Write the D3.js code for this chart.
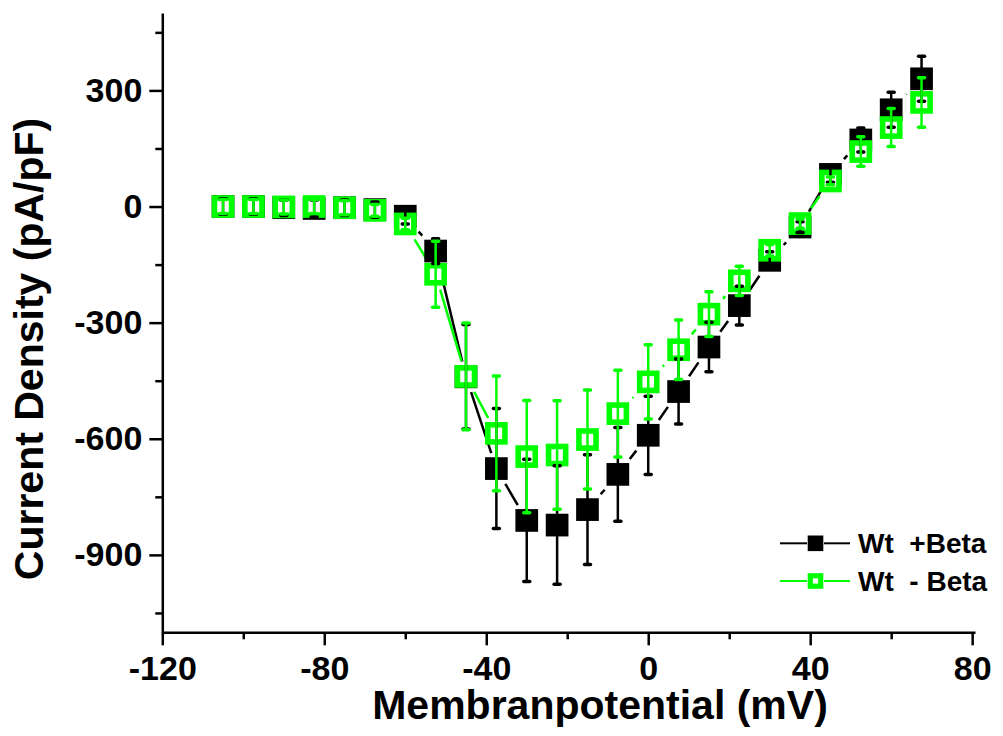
<!DOCTYPE html>
<html>
<head>
<meta charset="utf-8">
<script src="https://cdn.jsdelivr.net/npm/d3@7"></script>
<style>
  body { margin: 0; background: #fff; }
  text { font-family: "Liberation Sans", Arial, sans-serif; font-weight: bold; }
</style>
</head>
<body>
<script>
'use strict';

// membrane potential steps (mV)
const voltages = [-105, -97.5, -90, -82.5, -75, -67.5, -60, -52.5, -45, -37.5, -30, -22.5,
  -15, -7.5, 0, 7.5, 15, 22.5, 30, 37.5, 45, 52.5, 60, 67.5];

// Wt +Beta (black, filled squares)
const plusBeta = [0, 0, -3, -5, -3, -8, -25, -115, -440, -677, -811, -823,
  -783, -692, -591, -478, -363, -256, -139, -53, 83, 172, 250, 330];
const plusBetaErr = [20, 20, 20, 22, 20, 20, 20, 32, 135, 155, 158, 153,
  142, 121, 101, 84, 64, 50, 22, 14, 20, 31, 45, 58];

// Wt - Beta (green, open squares)
const minusBeta = [0, 0, -1, 0, -3, -10, -45, -175, -439, -586, -646, -642,
  -602, -535, -453, -370, -278, -192, -113, -44, 66, 142, 204, 269];
const minusBetaErr = [18, 18, 18, 18, 18, 15, 15, 85, 138, 148, 145, 140,
  128, 112, 96, 77, 58, 38, 15, 12, 10, 38, 49, 64];

const xMajor = [-120, -80, -40, 0, 40, 80];
const xMinor = [-100, -60, -20, 20, 60];
const yMajor = [-900, -600, -300, 0, 300];
const yMinor = [-1050, -750, -450, -150, 150, 450];

const seriesNames = ["Wt  +Beta", "Wt  - Beta"];

window.onload = function() {
  const svg = d3.select("body").append("svg")
    .attr("width", 1003)
    .attr("height", 736);

  const GREEN = "#00ff00";

  const x = d3.scaleLinear().domain([-120, 80.7]).range([162.3, 975]);
  const y = d3.scaleLinear().domain([-1100, 500]).range([632.3, 13]);

  // plain hyphen for negatives, like the original
  const fmt = (d) => String(d);

  // axes: major ticks with labels, minor ticks without
  const xAxis = svg.append("g").attr("transform", "translate(0," + y(-1100) + ")");
  xAxis.call(d3.axisBottom(x).tickValues(xMajor).tickFormat(fmt).tickSize(13).tickPadding(11).tickSizeOuter(0));
  xAxis.append("g").call(d3.axisBottom(x).tickValues(xMinor).tickSize(7).tickFormat("").tickSizeOuter(0))
    .select(".domain").remove();

  const yAxis = svg.append("g").attr("transform", "translate(" + x(-120) + ",0)");
  yAxis.call(d3.axisLeft(y).tickValues(yMajor).tickFormat(fmt).tickSize(13).tickPadding(7).tickSizeOuter(0));
  yAxis.append("g").call(d3.axisLeft(y).tickValues(yMinor).tickSize(7).tickFormat("").tickSizeOuter(0))
    .select(".domain").remove();

  svg.selectAll(".domain, .tick line")
    .attr("stroke", "#000")
    .attr("stroke-width", 2.5);
  svg.selectAll(".tick text")
    .attr("font-size", "34px")
    .attr("fill", "#000");

  /****** Labels *******/
  svg.append("text")
    .attr("x", 600)
    .attr("y", 719)
    .attr("font-size", "41px")
    .style("text-anchor", "middle")
    .text("Membranpotential (mV)");

  svg.append("text")
    .attr("transform", "translate(43,349) rotate(-90)")
    .attr("font-size", "41px")
    .style("text-anchor", "middle")
    .text("Current Density (pA/pF)");

  const series = [
    { mean: plusBeta, err: plusBetaErr, color: "#000", filled: true },
    { mean: minusBeta, err: minusBetaErr, color: GREEN, filled: false }
  ];

  const half = 11.35, gap = 4;

  // connecting lines, broken around each square
  series.forEach(function(s) {
    const pts = voltages.map(function(v, i) { return [x(v), y(s.mean[i])]; });
    const segs = [];
    for (let i = 0; i < pts.length - 1; i++) {
      const dx = pts[i + 1][0] - pts[i][0], dy = pts[i + 1][1] - pts[i][1];
      const t = (half + gap) / Math.max(Math.abs(dx), Math.abs(dy));
      if (t >= 0.5) continue;
      segs.push([pts[i][0] + dx * t, pts[i][1] + dy * t, pts[i + 1][0] - dx * t, pts[i + 1][1] - dy * t]);
    }
    svg.append("g").selectAll("line")
      .data(segs)
      .enter().append("line")
        .attr("x1", d => d[0]).attr("y1", d => d[1])
        .attr("x2", d => d[2]).attr("y2", d => d[3])
        .attr("stroke", s.color)
        .attr("stroke-width", 2.5);
  });

  // squares
  series.forEach(function(s) {
    const g = svg.append("g");
    if (s.filled) {
      g.selectAll("rect").data(voltages).enter().append("rect")
        .attr("x", (d) => x(d) - half)
        .attr("y", (d, i) => y(s.mean[i]) - half)
        .attr("width", half * 2)
        .attr("height", half * 2)
        .attr("fill", s.color);
    } else {
      g.selectAll("rect").data(voltages).enter().append("rect")
        .attr("x", (d) => x(d) - half + 2.8)
        .attr("y", (d, i) => y(s.mean[i]) - half + 2.8)
        .attr("width", half * 2 - 5.6)
        .attr("height", half * 2 - 5.6)
        .attr("fill", "#fff")
        .attr("stroke", s.color)
        .attr("stroke-width", 5.6);
    }
  });

  // error bars on top
  series.forEach(function(s) {
    const g = svg.append("g").attr("stroke", s.color);
    voltages.forEach(function(v, i) {
      const cx = x(v), top = y(s.mean[i] + s.err[i]), bot = y(s.mean[i] - s.err[i]);
      g.append("line").attr("x1", cx).attr("x2", cx).attr("y1", top).attr("y2", bot)
        .attr("stroke-width", 2.5);
      [top, bot].forEach(function(yy) {
        g.append("line").attr("x1", cx - 3).attr("x2", cx + 3).attr("y1", yy).attr("y2", yy)
          .attr("stroke-width", 3.5).attr("stroke-linecap", "round");
      });
    });
  });

  //Legend
  const legend = svg.append("g").attr("class", "legend");
  const rowsY = [543.3, 581];
  series.forEach(function(s, i) {
    const ly = rowsY[i];
    legend.append("line").attr("x1", 780).attr("x2", 807).attr("y1", ly).attr("y2", ly)
      .attr("stroke", s.color).attr("stroke-width", 2);
    legend.append("line").attr("x1", 824).attr("x2", 850).attr("y1", ly).attr("y2", ly)
      .attr("stroke", s.color).attr("stroke-width", 2);
    if (s.filled) {
      legend.append("rect").attr("x", 815.5 - 7.8).attr("y", ly - 7.8)
        .attr("width", 15.6).attr("height", 15.6).attr("fill", s.color);
    } else {
      legend.append("rect").attr("x", 815.5 - 5.2).attr("y", ly - 5.2)
        .attr("width", 10.4).attr("height", 10.4)
        .attr("fill", "#fff").attr("stroke", s.color).attr("stroke-width", 5.2);
    }
    legend.append("text")
      .attr("x", 858)
      .attr("y", ly + 10)
      .attr("font-size", "28px")
      .style("white-space", "pre")
      .attr("xml:space", "preserve")
      .text(seriesNames[i]);
  });
};
</script>
</body>
</html>
